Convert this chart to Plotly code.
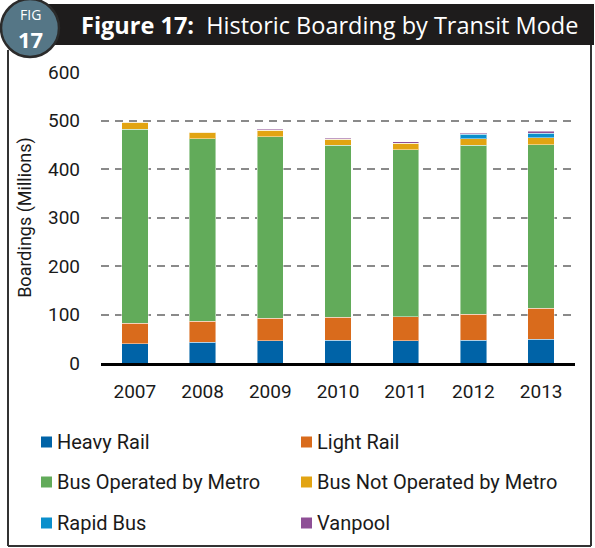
import plotly.graph_objects as go

# ---- data ----
years = ["2007", "2008", "2009", "2010", "2011", "2012", "2013"]
heavy_rail = [40, 42.5, 45.5, 47, 46, 46.5, 48.5]
light_rail = [42, 44, 47, 47.5, 49, 54, 64]
bus_metro = [400, 376, 374, 354, 345, 348, 337.5]
bus_not_metro = [14, 13, 13, 12.5, 13, 14, 14.5]
rapid_bus = [0, 0, 0, 0, 0, 9.5, 9.5]
vanpool = [0, 1.5, 2, 2, 3, 2, 3.5]

series_names = ["Heavy Rail", "Light Rail", "Bus Operated by Metro",
                "Bus Not Operated by Metro", "Rapid Bus", "Vanpool"]
series_values = [heavy_rail, light_rail, bus_metro, bus_not_metro, rapid_bus, vanpool]
series_colors = ["#0063a7", "#d96b1c", "#62ab5a", "#e2a412", "#0a8fcc", "#8e4f96"]
y_ticks = [0, 100, 200, 300, 400, 500, 600]

# ---- layout geometry (pixels) ----
W, H = 595, 548
L, R, T, B = 101, 575, 72, 363
PW, PH = R - L, B - T


def px(x):
    return (x - L) / PW


def py(y):
    return (B - y) / PH


AX_FONT = "Roboto, 'DejaVu Sans', sans-serif"
TITLE_FONT = "'Open Sans', 'Noto Sans', sans-serif"

fig = go.Figure()
for name, vals, col in zip(series_names, series_values, series_colors):
    fig.add_trace(go.Bar(
        x=years, y=vals, name=name, showlegend=False,
        marker=dict(color=col, line=dict(color="rgba(255,255,255,0.45)", width=1)),
    ))

shapes = []
annotations = []

# header bar
shapes.append(dict(type="rect", xref="paper", yref="paper",
                   x0=px(28), x1=px(594), y0=py(45), y1=py(4),
                   fillcolor="#1e1c1c", line=dict(width=0), layer="above"))
# frame
frame_col = "#333333"
shapes.append(dict(type="line", xref="paper", yref="paper",
                   x0=px(8), x1=px(8), y0=py(50), y1=py(546),
                   line=dict(color=frame_col, width=2)))
shapes.append(dict(type="line", xref="paper", yref="paper",
                   x0=px(8), x1=px(591), y0=py(546), y1=py(546),
                   line=dict(color=frame_col, width=2)))
shapes.append(dict(type="line", xref="paper", yref="paper",
                   x0=px(591), x1=px(591), y0=py(45), y1=py(546),
                   line=dict(color=frame_col, width=2)))
# badge circle
shapes.append(dict(type="circle", xref="paper", yref="paper",
                   x0=px(1), x1=px(59), y0=py(57), y1=py(-1),
                   fillcolor="#557686", line=dict(color="#2b2b2b", width=2.5),
                   layer="above"))

annotations.append(dict(text="FIG", xref="paper", yref="paper",
                        x=px(30), y=py(14), xanchor="center", yanchor="middle",
                        showarrow=False,
                        font=dict(family=TITLE_FONT, size=14, color="white")))
annotations.append(dict(text="<b>17</b>", xref="paper", yref="paper",
                        x=px(30), y=py(39), xanchor="center", yanchor="middle",
                        showarrow=False,
                        font=dict(family=TITLE_FONT, size=22, color="white")))
annotations.append(dict(text="<b>Figure 17:</b>\u00a0\u00a0Historic Boarding by Transit Mode",
                        xref="paper", yref="paper",
                        x=px(79), y=py(25), xanchor="left", yanchor="middle",
                        showarrow=False,
                        font=dict(family=TITLE_FONT, size=23.5, color="white")))

# legend (built from series lists)
leg_cols = [41, 301]
leg_rows = [442, 482, 523]
for i, (name, col) in enumerate(zip(series_names, series_colors)):
    cx = leg_cols[i % 2]
    cy = leg_rows[i // 2]
    shapes.append(dict(type="rect", xref="paper", yref="paper",
                       x0=px(cx), x1=px(cx + 11), y0=py(cy + 5.5), y1=py(cy - 5.5),
                       fillcolor=col, line=dict(width=0)))
    annotations.append(dict(text=name, xref="paper", yref="paper",
                            x=px(cx + 14), y=py(cy), xanchor="left", yanchor="middle",
                            showarrow=False,
                            font=dict(family=AX_FONT, size=20, color="#1a1a1a")))

fig.update_layout(
    width=W, height=H,
    margin=dict(l=L, r=W - R, t=T, b=H - B, pad=0),
    paper_bgcolor="white", plot_bgcolor="white",
    barmode="stack", bargap=0.61,
    shapes=shapes, annotations=annotations,
    font=dict(family=AX_FONT, size=18, color="#1a1a1a"),
    xaxis=dict(showgrid=False, showline=True, linecolor="black", linewidth=3,
               ticks="", ticklabelstandoff=9,
               tickfont=dict(family=AX_FONT, size=19, color="#1a1a1a")),
    yaxis=dict(range=[0, 600], tickvals=y_ticks, showgrid=True,
               gridcolor="#8a8a8a", gridwidth=2, griddash="8px,6px",
               zeroline=False, showline=False, ticks="", ticklabelstandoff=20,
               tickfont=dict(family=AX_FONT, size=19, color="#1a1a1a"),
               title=dict(text="Boardings (Millions)", standoff=11,
                          font=dict(family=AX_FONT, size=18, color="#1a1a1a"))),
)

fig.write_html("out.html",
               config={"displayModeBar": False},
               post_script="document.body.style.margin='0';document.body.style.overflow='hidden';")
